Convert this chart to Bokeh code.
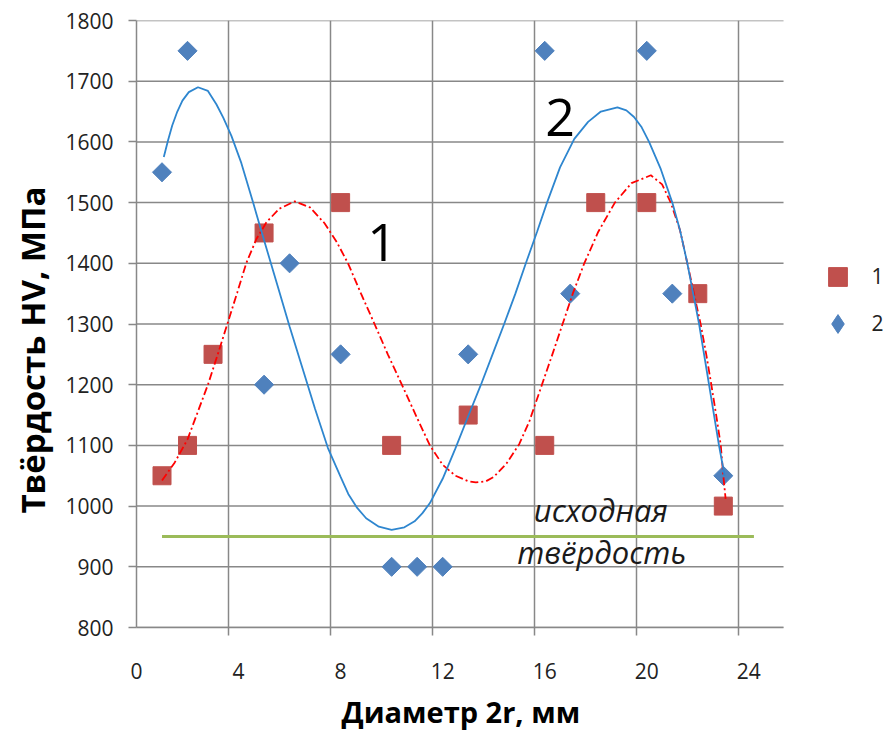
from bokeh.plotting import figure
from bokeh.models import FixedTicker, Legend, LegendItem, Range1d, Title
from bokeh.core.properties import value
from bokeh.embed import file_html
from bokeh.resources import INLINE
import math

# ---- data ----
x1 = [1, 2, 3, 5, 8, 10, 13, 16, 18, 20, 22, 23]
hv1 = [1050, 1100, 1250, 1450, 1500, 1100, 1150, 1100, 1500, 1500, 1350, 1000]

x2 = [1, 2, 5, 6, 8, 10, 11, 12, 13, 16, 17, 20, 21, 23]
hv2 = [1550, 1750, 1200, 1400, 1250, 900, 900, 900, 1250, 1750, 1350, 1750, 1350, 1050]

# trend line of series 1 (red, dash-dot)
trend1_x = [1.0, 1.5, 2.0, 2.4, 2.8, 3.2, 3.56, 3.95, 4.3, 4.7, 5.1, 5.6, 6.2, 6.8,
            7.37, 7.85, 8.29, 8.8, 9.33, 9.85, 10.4, 11.0, 11.5, 12.0, 12.5, 13.0,
            13.3, 13.7, 14.0, 14.5, 15.0, 15.4, 15.85, 16.3, 16.7, 17.1, 17.55, 18.1,
            18.75, 19.4, 20.16, 20.6, 20.94, 21.3, 21.59, 21.85, 22.11, 22.33, 22.53,
            22.72, 22.9, 23.0, 23.09]
trend1_y = [1042, 1072, 1110, 1155, 1200, 1252, 1300, 1352, 1400, 1440, 1468, 1490, 1502, 1492,
            1466, 1435, 1400, 1350, 1300, 1250, 1200, 1145, 1100, 1068, 1050, 1041,
            1039, 1041, 1048, 1070, 1102, 1140, 1195, 1250, 1300, 1350, 1400, 1452,
            1500, 1532, 1545, 1530, 1500, 1455, 1400, 1350, 1300, 1250, 1200,
            1150, 1100, 1050, 1012]

# trend line of series 2 (blue, solid)
trend2_x = [1.07, 1.24, 1.4, 1.6, 1.8, 2.05, 2.41, 2.8, 3.13, 3.4, 3.72, 4.11, 4.57, 5.0, 5.5,
            6.0, 6.5, 7.0, 7.5, 8.0, 8.3, 8.65, 9.0, 9.5, 10.0, 10.5, 10.9, 11.2, 11.5,
            12.0, 12.5, 13.0, 13.5, 14.0, 14.41, 14.85, 15.26, 15.7, 16.09, 16.6, 17.16,
            17.7, 18.2, 18.85, 19.2, 19.5, 19.8, 20.09, 20.55, 21.0, 21.3, 21.59, 22.05,
            22.44, 22.83, 23.05]
trend2_y = [1575, 1603, 1627, 1650, 1668, 1682, 1690, 1684, 1662, 1640, 1610, 1565, 1500, 1438,
            1367, 1296, 1228, 1160, 1096, 1048, 1020, 997, 980, 966, 961, 965, 975, 988, 1005,
            1045, 1095, 1148, 1200, 1255, 1300, 1350, 1400, 1452, 1500, 1558, 1605,
            1633, 1650, 1657, 1652, 1641, 1624, 1600, 1555, 1500, 1455, 1400, 1300,
            1200, 1100, 1050]

base_hv = 950          # "исходная твёрдость"
base_x = [1.0, 24.2]

x_ticks = [0, 4, 8, 12, 16, 20, 24]
y_ticks = list(range(800, 1801, 100))
grid_shift = 0.4       # vertical grid lines sit slightly left of the labels
x_grid = [t - grid_shift for t in x_ticks[1:]]

series_names = ["1", "2"]
x_title = "Диаметр 2r, мм"
y_title = "Твёрдость HV, МПа"

GRID = "#888888"
FONT = "Open Sans"
X_AREA_END = 25.36     # right edge of the plotting area (grid and axis end here)
X_VIEW_END = 29.67     # the view continues to the right to hold the legend

p = figure(width=893, height=742, output_backend="svg", toolbar_location=None,
           x_range=Range1d(0, X_VIEW_END), y_range=Range1d(800, 1800),
           min_border_left=135, min_border_right=0, min_border_top=20,
           min_border_bottom=113)
p.outline_line_color = None
p.background_fill_color = "white"
p.border_fill_color = "white"

# x axis
p.xaxis.ticker = FixedTicker(ticks=x_ticks, minor_ticks=x_grid)
p.xaxis.bounds = (0, X_AREA_END)
p.xaxis.major_tick_out = 0
p.xaxis.major_tick_in = 0
p.xaxis.minor_tick_out = 8
p.xaxis.minor_tick_in = 0
p.xaxis.minor_tick_line_color = GRID
p.xaxis.minor_tick_line_width = 1.5
p.xaxis.major_label_standoff = 27

# y axis
p.yaxis.ticker = FixedTicker(ticks=y_ticks)
p.yaxis.major_tick_out = 8
p.yaxis.major_tick_in = 0
p.yaxis.minor_tick_out = 0
p.yaxis.minor_tick_in = 0
p.yaxis.major_tick_line_color = GRID
p.yaxis.major_tick_line_width = 1.5
p.yaxis.major_label_standoff = 15

for ax in (p.xaxis, p.yaxis):
    ax.axis_line_color = GRID
    ax.axis_line_width = 1.5
    ax.major_label_text_font = FONT
    ax.major_label_text_font_size = "21px"
    ax.major_label_text_color = "#222222"

# axis titles (placed as titles so that they can sit off-centre as in the original)
p.add_layout(Title(text=x_title, align="left", offset=205, standoff=20,
                   vertical_align="top",
                   text_font=FONT, text_font_size="29px", text_font_style="bold",
                   text_color="black"), "below")
p.add_layout(Title(text=y_title, align="left", offset=114, standoff=15,
                   text_font=FONT, text_font_size="33px", text_font_style="bold",
                   text_color="black"), "left")

# grid: vertical lines from the x ticker's minor ticks, horizontal lines
# limited to the plotting area
p.xgrid.grid_line_color = None
p.xgrid.minor_grid_line_color = GRID
p.xgrid.minor_grid_line_width = 1.5
p.ygrid.grid_line_color = None
p.segment(x0=[0] * len(y_ticks), y0=y_ticks, x1=[X_AREA_END] * len(y_ticks), y1=y_ticks,
          line_color=GRID, line_width=1.5)

# base hardness line
p.line(base_x, [base_hv, base_hv], line_color="#9BBB59", line_width=3)

# markers
r1 = p.scatter(x1, hv1, marker="square", size=18, fill_color="#C0504D",
               line_color="#C0504D", line_width=1)
r2 = p.scatter(x2, hv2, marker="square", size=13.5, angle=math.pi / 4,
               fill_color="#4F81BD", line_color="#4F81BD", line_width=1)
# legend stand-in for series 2 (legend glyphs are not rotated)
r2_key = p.scatter(x2, hv2, marker="diamond", size=20, fill_color="#4F81BD",
                   line_color="#4F81BD", visible=False)

# trend lines
p.line(trend1_x, trend1_y, line_color="#FF0000", line_width=1.8, line_dash="8 3 2 3")
p.line(trend2_x, trend2_y, line_color="#2E86CF", line_width=1.8)

# annotations
p.text(x=[9.63], y=[1435], text=["1"], text_font=value(FONT), text_font_size="52px",
       text_align="center", text_baseline="alphabetic", text_color="black")
p.text(x=[16.6], y=[1641], text=["2"], text_font=value(FONT), text_font_size="52px",
       text_align="center", text_baseline="alphabetic", text_color="black")
p.text(x=[18.2], y=[994], text=["исходная"], text_font=value(FONT), text_font_size="31px",
       text_font_style="italic", text_align="center", text_baseline="alphabetic",
       text_color="#1a1a1a")
p.text(x=[18.24], y=[925], text=["твёрдость"], text_font=value(FONT), text_font_size="31px",
       text_font_style="italic", text_align="center", text_baseline="alphabetic",
       text_color="#1a1a1a")

legend = Legend(items=[LegendItem(label=series_names[0], renderers=[r1]),
                       LegendItem(label=series_names[1], renderers=[r2_key])],
                location=(677.5, 280.5), glyph_width=47, glyph_height=47, spacing=-17,
                padding=0, margin=0, label_standoff=11, border_line_alpha=0,
                background_fill_alpha=0, label_text_font=FONT,
                label_text_font_size="21px", label_text_color="#222222")
p.add_layout(legend, "center")

open("out.html", "w").write(file_html(p, INLINE))
